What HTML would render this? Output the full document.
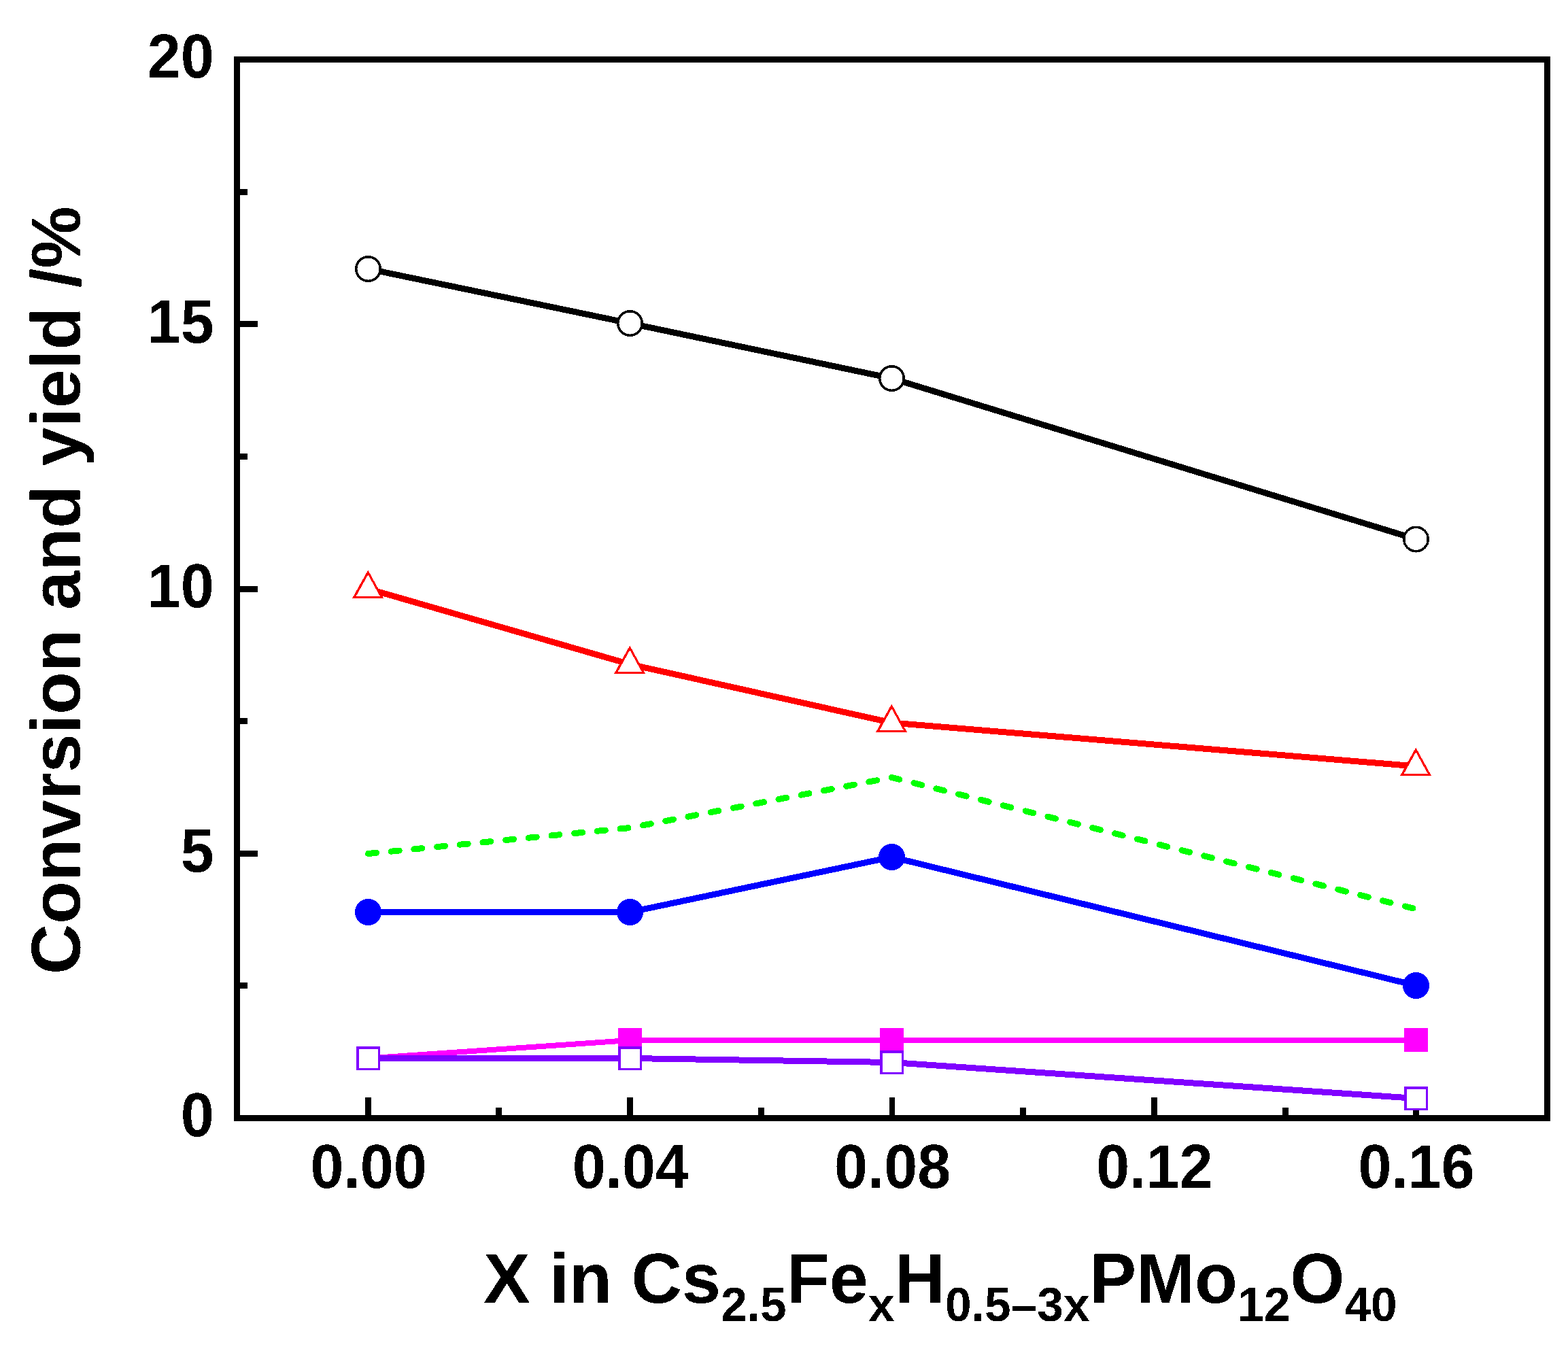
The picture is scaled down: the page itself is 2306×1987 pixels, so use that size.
<!DOCTYPE html>
<html lang="en"><head><meta charset="utf-8"><title>Conversion and yield vs X in Cs2.5FexH0.5-3xPMo12O40</title>
<style>
html,body{margin:0;padding:0;background:#fff;}
body{width:2306px;height:1987px;overflow:hidden;}
svg{display:block;}
text{font-family:"Liberation Sans",sans-serif;font-weight:bold;fill:#000;}
.tick{font-size:88px;}
.title{font-size:103px;}
.sub{font-size:69.5px;}
</style></head><body>
<svg width="2306" height="1987" viewBox="0 0 2306 1987">
<defs><filter id="crisp" filterUnits="userSpaceOnUse" x="0" y="0" width="2306" height="1987" color-interpolation-filters="sRGB"><feComponentTransfer><feFuncA type="discrete" tableValues="0 1"/></feComponentTransfer></filter></defs>
<rect x="0" y="0" width="2306" height="1987" fill="#fff"/>
<g fill="none" stroke-linejoin="round" shape-rendering="crispEdges">
<polyline points="541.5,395.5 926.5,475.5 1311.5,556.5 2082.5,793" stroke="#000" stroke-width="9"/>
<polyline points="541.5,866 926.5,977 1311.5,1063 2082.5,1127" stroke="#f00" stroke-width="9"/>
<polyline points="541.5,1255.5 926.5,1217.5 1311.5,1143.5 2082.5,1337" stroke="#0f0" stroke-width="9" stroke-linecap="round" stroke-dasharray="12 21.85"/>
<polyline points="541.5,1341.5 926.5,1341.5 1311.5,1260.5 2082.5,1449.5" stroke="#00f" stroke-width="9"/>
<polyline points="541.5,1556.5 926.5,1530 1311.5,1530 2082.5,1530" stroke="#f0f" stroke-width="8"/>
<polyline points="541.5,1556.5 926.5,1556.5 1311.5,1562.5 2082.5,1615.5" stroke="#8000ff" stroke-width="9"/>
</g>
<g shape-rendering="crispEdges">
<circle cx="541.5" cy="395.5" r="17.75" fill="#fff" stroke="#000" stroke-width="3.5"/>
<circle cx="926.5" cy="475.5" r="17.75" fill="#fff" stroke="#000" stroke-width="3.5"/>
<circle cx="1311.5" cy="556.5" r="17.75" fill="#fff" stroke="#000" stroke-width="3.5"/>
<circle cx="2082.5" cy="793" r="17.75" fill="#fff" stroke="#000" stroke-width="3.5"/>
<polygon points="541.25,838.5 564.0,880 518.0,880" fill="#f00"/>
<polygon points="541.25,845.2 558.85,877 523.65,877" fill="#fff"/>
<polygon points="926.25,949.5 949.0,991 903.0,991" fill="#f00"/>
<polygon points="926.25,956.2 943.85,988 908.65,988" fill="#fff"/>
<polygon points="1311.25,1035.5 1334.0,1077 1288.0,1077" fill="#f00"/>
<polygon points="1311.25,1042.2 1328.85,1074 1293.65,1074" fill="#fff"/>
<polygon points="2082.25,1099.5 2105.0,1141 2059.0,1141" fill="#f00"/>
<polygon points="2082.25,1106.2 2099.85,1138 2064.65,1138" fill="#fff"/>
<circle cx="541.5" cy="1341.5" r="19.5" fill="#00f"/>
<circle cx="926.5" cy="1341.5" r="19.5" fill="#00f"/>
<circle cx="1311.5" cy="1260.5" r="19.5" fill="#00f"/>
<circle cx="2082.5" cy="1449.5" r="19.5" fill="#00f"/>
<rect x="909.0" y="1512" width="35" height="35" fill="#f0f"/>
<rect x="1294.0" y="1512" width="35" height="35" fill="#f0f"/>
<rect x="2065.0" y="1512" width="35" height="35" fill="#f0f"/>
<rect x="525.75" y="1540.75" width="31.5" height="31.5" fill="#fff" stroke="#8000ff" stroke-width="3.5"/>
<rect x="910.75" y="1540.75" width="31.5" height="31.5" fill="#fff" stroke="#8000ff" stroke-width="3.5"/>
<rect x="1295.75" y="1546.75" width="31.5" height="31.5" fill="#fff" stroke="#8000ff" stroke-width="3.5"/>
<rect x="2066.75" y="1599.75" width="31.5" height="31.5" fill="#fff" stroke="#8000ff" stroke-width="3.5"/>
</g>
<g fill="#000" shape-rendering="crispEdges">
<rect x="344" y="83" width="1936" height="9"/>
<rect x="344" y="1640" width="1936" height="9"/>
<rect x="344" y="83" width="9" height="1566"/>
<rect x="2271" y="83" width="9" height="1566"/>
<rect x="353" y="1251" width="26" height="9"/>
<rect x="353" y="862" width="26" height="9"/>
<rect x="353" y="472" width="26" height="9"/>
<rect x="353" y="1445" width="11" height="9"/>
<rect x="353" y="1056" width="11" height="9"/>
<rect x="353" y="667" width="11" height="9"/>
<rect x="353" y="278" width="11" height="9"/>
<rect x="537" y="1614" width="9" height="26"/>
<rect x="922" y="1614" width="9" height="26"/>
<rect x="1308" y="1614" width="8" height="26"/>
<rect x="1693" y="1614" width="9" height="26"/>
<rect x="2078" y="1614" width="9" height="26"/>
<rect x="729" y="1629" width="9" height="11"/>
<rect x="1115" y="1629" width="9" height="11"/>
<rect x="1500" y="1629" width="9" height="11"/>
<rect x="1886" y="1629" width="9" height="11"/>
</g>
<rect x="2066.75" y="1599.75" width="31.5" height="31.5" fill="#fff" stroke="#8000ff" stroke-width="3.5" shape-rendering="crispEdges"/>
<g filter="url(#crisp)">
<text class="tick" text-anchor="end" transform="translate(314.7,114.30) scale(1,1.03)">20</text>
<text class="tick" text-anchor="end" transform="translate(314.7,503.55) scale(1,1.03)">15</text>
<text class="tick" text-anchor="end" transform="translate(314.7,892.80) scale(1,1.03)">10</text>
<text class="tick" text-anchor="end" transform="translate(314.7,1282.05) scale(1,1.03)">5</text>
<text class="tick" text-anchor="end" transform="translate(314.7,1671.30) scale(1,1.03)">0</text>
<text class="tick" text-anchor="middle" transform="translate(542.0,1747.5) scale(1,1.03)">0.00</text>
<text class="tick" text-anchor="middle" transform="translate(927.25,1747.5) scale(1,1.03)">0.04</text>
<text class="tick" text-anchor="middle" transform="translate(1312.5,1747.5) scale(1,1.03)">0.08</text>
<text class="tick" text-anchor="middle" transform="translate(1697.75,1747.5) scale(1,1.03)">0.12</text>
<text class="tick" text-anchor="middle" transform="translate(2083.0,1747.5) scale(1,1.03)">0.16</text>
<text class="title" style="font-size:102.7px" transform="translate(117.5,1433.2) rotate(-90)">Convrsion and yield /%</text>
<text class="title" x="711" y="1916">X in Cs<tspan class="sub" dy="27">2.5</tspan><tspan dy="-27">Fe</tspan><tspan class="sub" dy="27">x</tspan><tspan dy="-27">H</tspan><tspan class="sub" dy="27">0.5–3x</tspan><tspan dy="-27">PMo</tspan><tspan class="sub" dy="27">12</tspan><tspan dy="-27">O</tspan><tspan class="sub" dy="27">40</tspan></text>
</g>
</svg>
</body></html>
